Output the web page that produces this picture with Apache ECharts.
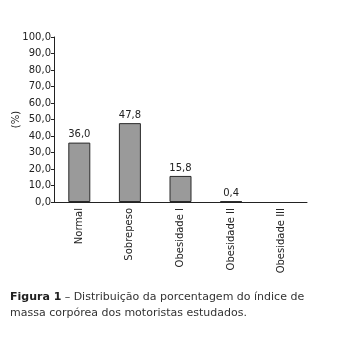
<!DOCTYPE html>
<html>
<head>
<meta charset="utf-8">
<script src="https://cdn.jsdelivr.net/npm/echarts@6/dist/echarts.min.js"></script>
<style>
  html, body { margin: 0; padding: 0; background: #fff; }
  #chart { width: 344px; height: 341px; }
</style>
</head>
<body>
<div id="chart"></div>
<script>
// IMC categories and share of drivers in each (%)
const categories = ['Normal', 'Sobrepeso', 'Obesidade I', 'Obesidade II', 'Obesidade III'];
const percentages = [36.0, 47.8, 15.8, 0.4, null];
const yTicks = [0, 10, 20, 30, 40, 50, 60, 70, 80, 90, 100];

const fmt = v => v.toFixed(1).replace('.', ',');
const textColor = '#222';
const font = 'DejaVu Sans';

const chart = echarts.init(document.getElementById('chart'), null, { renderer: 'canvas' });
chart.setOption({
  animation: false,
  backgroundColor: '#fff',
  grid: { left: 54, right: 37, top: 37, bottom: 139, containLabel: false, outerBoundsMode: 'none' },
  xAxis: {
    type: 'category',
    data: categories,
    axisLine: { lineStyle: { color: '#222', width: 1 } },
    axisTick: { alignWithLabel: true, length: 4, lineStyle: { color: '#222' } },
    axisLabel: { rotate: 90, color: textColor, fontSize: 10, fontFamily: font, margin: 6 }
  },
  yAxis: {
    type: 'value',
    min: yTicks[0],
    max: yTicks[yTicks.length - 1],
    interval: 10,
    name: '(%)',
    nameLocation: 'middle',
    nameGap: 33,
    nameMoveOverlap: false,
    nameRotate: 90,
    nameTextStyle: { color: textColor, fontSize: 10, fontFamily: font },
    axisLine: { show: true, lineStyle: { color: '#222', width: 1 } },
    axisTick: { show: true, length: 3, lineStyle: { color: '#222' } },
    splitLine: { show: false },
    axisLabel: { color: textColor, fontSize: 10, fontFamily: font, margin: 3, formatter: v => fmt(v) }
  },
  series: [{
    type: 'bar',
    data: percentages,
    barWidth: 22,
    itemStyle: { color: '#9a9a9a', borderColor: '#2a2a2a', borderWidth: 1 },
    label: {
      show: true,
      position: 'top',
      distance: 3,
      color: textColor,
      fontSize: 10,
      fontFamily: font,
      formatter: p => (p.value == null ? '' : fmt(p.value))
    }
  }],
  graphic: [{
    type: 'text',
    left: 10,
    top: 289,
    style: {
      rich: {
        b: { fontWeight: 'bold', fontSize: 11, fontFamily: font, fill: '#222' },
        n: { fontSize: 11, fontFamily: font, fill: '#333' }
      },
      text: '{b|Figura 1} {n|– Distribuição da porcentagem do índice de}\n{n|massa corpórea dos motoristas estudados.}',
      lineHeight: 16
    }
  }]
});
</script>
</body>
</html>
